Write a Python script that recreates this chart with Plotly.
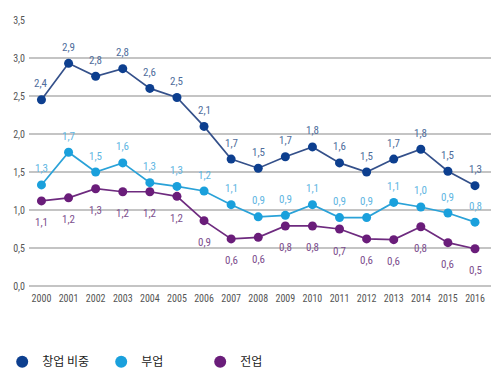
import plotly.graph_objects as go

years = list(range(2000, 2017))
startup = [2.45, 2.93, 2.76, 2.86, 2.6, 2.48, 2.1, 1.67, 1.55, 1.70, 1.83, 1.62, 1.5, 1.67, 1.8, 1.51, 1.32]
side = [1.33, 1.76, 1.5, 1.62, 1.36, 1.31, 1.25, 1.07, 0.91, 0.93, 1.07, 0.9, 0.9, 1.1, 1.04, 0.96, 0.84]
full = [1.12, 1.16, 1.28, 1.24, 1.24, 1.18, 0.86, 0.62, 0.64, 0.79, 0.79, 0.75, 0.62, 0.61, 0.78, 0.57, 0.49]

startup_lbl = ["2,4", "2,9", "2,8", "2,8", "2,6", "2,5", "2,1", "1,7", "1,5", "1,7", "1,8", "1,6", "1,5", "1,7", "1,8", "1,5", "1,3"]
side_lbl = ["1,3", "1,7", "1,5", "1,6", "1,3", "1,3", "1,2", "1,1", "0,9", "0,9", "1,1", "0,9", "0,9", "1,1", "1,0", "0,9", "0,8"]
full_lbl = ["1,1", "1,2", "1,3", "1,2", "1,2", "1,2", "0,9", "0,6", "0,6", "0,8", "0,8", "0,7", "0,6", "0,6", "0,8", "0,6", "0,5"]

names = ["창업 비중", "부업", "전업"]
y_ticks = [0, 0.5, 1, 1.5, 2, 2.5, 3, 3.5]
y_tick_text = ["0,0", "0,5", "1,0", "1,5", "2,0", "2,5", "3,0", "3,5"]

c_dark = "#0d3f8f"
c_light = "#1aa0dc"
c_purple = "#6a1d7a"
line_dark = "#34508a"
line_light = "#2aa2d8"
line_purple = "#6e2b7f"
lbl_dark = "#4f6d9c"
lbl_light = "#5fb6e2"
lbl_purple = "#7d4f8e"

label_font = "Liberation Sans Narrow, Arial Narrow, Roboto Condensed, Liberation Sans, sans-serif"

fig = go.Figure()

series = [
    (startup, startup_lbl, c_dark, line_dark, lbl_dark, 16),
    (side, side_lbl, c_light, line_light, lbl_light, 16),
    (full, full_lbl, c_purple, line_purple, lbl_purple, -22),
]

annotations = []
for vals, lbls, mc, lc, tc, shift in series:
    fig.add_trace(go.Scatter(
        x=years, y=vals, mode="lines+markers",
        line=dict(color=lc, width=1.7),
        marker=dict(color=mc, size=9),
        showlegend=False, cliponaxis=False,
    ))
    for xv, yv, t in zip(years, vals, lbls):
        annotations.append(dict(
            x=xv, y=yv, text=t, showarrow=False, yshift=shift,
            xanchor="center", yanchor="middle",
            font=dict(size=11, color=tc, family=label_font),
        ))

for nm, mc in zip(names, [c_dark, c_light, c_purple]):
    fig.add_trace(go.Scatter(
        x=[None], y=[None], mode="markers", name=nm,
        marker=dict(color=mc, size=9),
    ))

fig.update_layout(
    width=492, height=379,
    margin=dict(l=21, r=9, t=12, b=101, autoexpand=False),
    plot_bgcolor="white", paper_bgcolor="white",
    font=dict(family=label_font, color="#555555", size=10),
    annotations=annotations,
    legend=dict(
        orientation="h", x=-0.058, xanchor="left", y=-0.285, yanchor="middle",
        entrywidth=54, entrywidthmode="pixels",
        font=dict(size=12, color="#222222", family="Noto Sans CJK KR, sans-serif"),
        itemsizing="constant",
    ),
)

fig.update_xaxes(
    range=[1999.54, 2016.59], tickvals=years, ticktext=[str(y) for y in years],
    showgrid=False, zeroline=False, showline=False, ticks="", ticklabelstandoff=5,
    automargin=False,
    tickfont=dict(size=10, color="#555555"),
)
fig.update_yaxes(
    range=[0, 3.5], tickvals=y_ticks, ticktext=y_tick_text,
    showgrid=True, gridcolor="#c4c4c4", gridwidth=1.5,
    zeroline=True, zerolinecolor="#c4c4c4", zerolinewidth=1.5, showline=False,
    ticks="", automargin=False, ticklabelstandoff=3,
    tickfont=dict(size=10, color="#555555"),
)

fig.write_html("out.html")
